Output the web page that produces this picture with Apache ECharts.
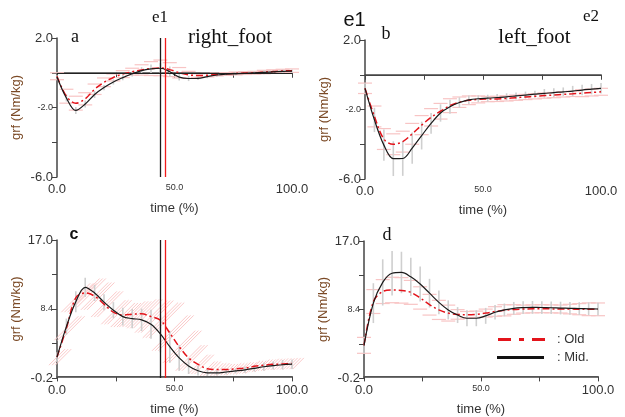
<!DOCTYPE html>
<html>
<head>
<meta charset="utf-8">
<script src="https://cdn.jsdelivr.net/npm/echarts@6/dist/echarts.min.js"></script>
<style>
html,body{margin:0;padding:0;background:#fff;}
#main{width:625px;height:417px;}
</style>
</head>
<body>
<div id="main"></div>
<script>
// time axis (% of cycle), one sample every 4 %
var time_pct = [0,4,8,12,16,20,24,28,32,36,40,44,48,52,56,60,64,68,72,76,80,84,88,92,96,100];

// a : right foot, top row
var a_mid    = [-0.24,-1.45,-2.17,-1.8,-1.25,-0.85,-0.53,-0.28,-0.06,0.12,0.22,0.26,0.06,-0.25,-0.33,-0.32,-0.22,-0.13,-0.08,-0.06,-0.04,-0.01,0.02,0.05,0.08,0.09];
var a_mid_sd = [0.1,0.2,0.2,0.2,0.2,0.15,0.15,0.15,0.15,0.2,0.25,0.3,0.3,0.2,0.15,0.1,0.1,0.1,0.08,0.08,0.08,0.08,0.1,0.1,0.1,0.1];
var a_old    = [-0.2,-1.35,-1.75,-1.5,-0.95,-0.55,-0.27,-0.08,0.06,0.16,0.24,0.28,0.18,0.0,-0.12,-0.16,-0.14,-0.1,-0.07,-0.04,-0.02,0.0,0.04,0.07,0.1,0.12];
var a_old_sd = [0.2,0.4,0.4,0.35,0.3,0.25,0.2,0.2,0.2,0.3,0.4,0.45,0.4,0.3,0.2,0.1,0.1,0.08,0.08,0.08,0.08,0.08,0.1,0.1,0.1,0.1];

// b : left foot, top row
var b_mid    = [-0.78,-2.6,-4.05,-4.83,-4.82,-4.22,-3.5,-2.8,-2.2,-1.84,-1.6,-1.45,-1.38,-1.35,-1.31,-1.27,-1.22,-1.17,-1.12,-1.07,-1.03,-0.98,-0.94,-0.88,-0.83,-0.78];
var b_mid_sd = [0.3,0.7,0.9,1.0,1.0,0.9,0.8,0.6,0.5,0.4,0.3,0.25,0.2,0.2,0.2,0.2,0.2,0.2,0.2,0.25,0.25,0.25,0.3,0.3,0.3,0.3];
var b_old    = [-0.78,-2.4,-3.7,-4.0,-3.85,-3.4,-2.9,-2.45,-2.1,-1.78,-1.58,-1.47,-1.42,-1.4,-1.39,-1.36,-1.32,-1.28,-1.24,-1.2,-1.17,-1.13,-1.1,-1.06,-1.02,-0.98];
var b_old_sd = [0.3,0.6,0.6,0.6,0.6,0.6,0.55,0.5,0.45,0.4,0.3,0.25,0.2,0.15,0.15,0.15,0.15,0.15,0.15,0.15,0.15,0.15,0.15,0.2,0.2,0.2];

// c : right foot, bottom row
var c_mid    = [2.4,6.2,9.3,11.1,10.4,9.25,8.25,7.45,7.2,7.05,6.5,5.3,3.7,2.3,1.3,0.7,0.45,0.45,0.55,0.68,0.82,1.0,1.2,1.35,1.45,1.52];
var c_mid_sd = [0.6,1.0,1.3,1.2,1.0,1.0,1.0,1.1,1.2,1.4,1.8,2.3,2.0,1.6,1.0,0.6,0.4,0.3,0.3,0.3,0.4,0.4,0.5,0.5,0.6,0.6];
var c_old    = [2.4,6.0,9.8,10.4,10.0,9.0,8.0,7.65,7.75,7.8,7.45,7.0,5.4,3.7,2.3,1.5,0.95,0.85,0.85,0.95,1.05,1.25,1.4,1.5,1.55,1.6];
var c_old_sd = [1.0,1.5,1.8,1.8,1.7,1.6,1.5,1.5,1.6,1.8,2.0,2.2,2.2,2.0,1.6,1.2,0.9,0.8,0.7,0.7,0.7,0.7,0.7,0.7,0.7,0.7];

// d : left foot, bottom row
var d_mid    = [3.9,9.2,11.8,12.95,13.05,12.5,11.6,10.45,9.3,8.35,7.7,7.3,7.3,7.6,8.05,8.35,8.55,8.63,8.66,8.65,8.62,8.58,8.55,8.52,8.49,8.46];
var d_mid_sd = [1.0,2.5,2.9,2.8,2.6,2.4,2.2,1.8,1.5,1.2,1.0,1.0,1.0,1.0,0.9,0.8,0.8,0.8,0.8,0.8,0.8,0.8,0.8,0.8,0.8,0.8];
var d_old    = [3.9,9.4,10.65,10.85,10.8,10.55,9.85,9.0,8.35,7.95,7.78,7.75,7.8,7.95,8.15,8.3,8.4,8.45,8.48,8.5,8.48,8.46,8.45,8.44,8.43,8.42];
var d_old_sd = [1.0,1.5,1.5,1.6,1.6,1.5,1.4,1.3,1.2,1.0,0.6,0.4,0.4,0.5,0.6,0.7,0.6,0.5,0.5,0.5,0.5,0.5,0.6,0.7,0.8,0.8];

// axis ticks / labels
var x_ticks_step = 25;
var x_labels = [0, 50, 100];
var top_y_labels = [2, -2, -6];
var bot_y_ticks = [-0.2, 4.1, 8.4, 12.7, 17];
var bot_y_labels = [-0.2, 8.4, 17];
// push-off events (black = Mid., red = Old)
var event_times = [44.0, 46.1];

var AX = '#444';
var TXT = '#333';
var NAME_COL = '#7b4a26';
var RED = '#e3141b';

function pairs(arr) {
    var out = [];
    for (var i = 0; i < time_pct.length; i++) {
        out.push([time_pct[i], arr[i]]);
    }
    return out;
}
function triples(m, s) {
    var out = [];
    for (var i = 0; i < time_pct.length; i++) {
        out.push([time_pct[i], m[i], s[i]]);
    }
    return out;
}

function mkX(gi) {
    return {
        gridIndex: gi, type: 'value', min: 0, max: 100, interval: x_ticks_step,
        axisLine: {lineStyle: {color: AX, width: 1.5}},
        axisTick: {length: 5, lineStyle: {color: AX}},
        splitLine: {show: false},
        axisLabel: {
            color: TXT, fontSize: 13, fontFamily: 'Liberation Sans', margin: 6,
            formatter: function (v) {
                if (x_labels.indexOf(v) < 0) return '';
                if (v === 50) return '{s|' + v.toFixed(1) + '}';
                return v.toFixed(1);
            },
            rich: {s: {fontSize: 9, fontFamily: 'Liberation Sans', color: TXT}}
        },
        name: 'time (%)', nameLocation: 'middle', nameGap: 25,
        nameTextStyle: {color: TXT, fontSize: 13, fontFamily: 'Liberation Sans'}
    };
}

function yFmt(v) {
    if (v === 8.4 || v === -2) return '{s|' + v.toFixed(1) + '}';
    return v.toFixed(1);
}

function mkY(gi, bottom) {
    var y = {
        gridIndex: gi, type: 'value',
        axisLine: {show: true, lineStyle: {color: AX, width: 1.5}},
        axisTick: {show: true, length: 5, lineStyle: {color: AX}},
        splitLine: {show: false},
        axisLabel: {
            color: TXT, fontSize: 13, fontFamily: 'Liberation Sans', margin: 4,
            formatter: yFmt,
            rich: {s: {fontSize: 9, fontFamily: 'Liberation Sans', color: TXT}}
        },
        name: 'grf (Nm/kg)', nameLocation: 'middle', nameGap: 34,
        nameTextStyle: {color: NAME_COL, fontSize: 13, fontFamily: 'Liberation Sans'}
    };
    if (bottom) {
        y.min = -0.2; y.max = 17;
        y.axisTick.customValues = bot_y_ticks;
        y.axisLabel.customValues = bot_y_labels;
    } else {
        y.min = -6; y.max = 2; y.interval = 2;
        var f = y.axisLabel.formatter;
        y.axisLabel.formatter = function (v) {
            if (top_y_labels.indexOf(v) < 0) return '';
            return f(v);
        };
    }
    return y;
}

// grey vertical sd bars for the Mid. group
function greyBars(gi, m, s) {
    return {
        type: 'custom', xAxisIndex: gi, yAxisIndex: gi, z: 2, silent: true,
        data: triples(m, s), encode: {x: 0, y: 1},
        renderItem: function (params, api) {
            var t = api.value(0), v = api.value(1), sd = api.value(2);
            var p1 = api.coord([t, v - sd]), p2 = api.coord([t, v + sd]);
            return {type: 'line', shape: {x1: p1[0], y1: p1[1], x2: p2[0], y2: p2[1]},
                style: {stroke: '#cfcfcf', lineWidth: 1.6}};
        }
    };
}

// pink horizontal sd marks for the Old group
function pinkBars(gi, m, s) {
    return {
        type: 'custom', xAxisIndex: gi, yAxisIndex: gi, z: 1, silent: true,
        data: triples(m, s), encode: {x: 0, y: 1},
        renderItem: function (params, api) {
            var t = api.value(0), v = api.value(1), sd = api.value(2);
            var hi = api.coord([t, v + sd]), lo = api.coord([t, v - sd]);
            var st = {stroke: '#f8c4c4', lineWidth: 1.2};
            return {type: 'group', children: [
                {type: 'line', shape: {x1: hi[0] - 7, y1: hi[1], x2: hi[0] + 7, y2: hi[1]}, style: st},
                {type: 'line', shape: {x1: lo[0] - 7, y1: lo[1], x2: lo[0] + 7, y2: lo[1]}, style: st}
            ]};
        }
    };
}

// diagonal hatching for the Old band in panel c
function pinkHatch(gi, m, s) {
    return {
        type: 'custom', xAxisIndex: gi, yAxisIndex: gi, z: 1, silent: true,
        data: triples(m, s), encode: {x: 0, y: 1},
        renderItem: function (params, api) {
            var t = api.value(0), v = api.value(1), sd = api.value(2);
            var hi = api.coord([t, v + sd]), lo = api.coord([t, v - sd]);
            var h = lo[1] - hi[1];
            var st = {stroke: '#fbcaca', lineWidth: 1};
            var kids = [];
            for (var k = 0; k < 3; k++) {
                var dx = k * 3.1;
                kids.push({type: 'line', shape: {x1: lo[0] - h / 2 + dx, y1: lo[1], x2: lo[0] + h / 2 + dx, y2: hi[1]}, style: st});
            }
            return {type: 'group', children: kids};
        }
    };
}

// vertical event lines over the full plot height
function eventLines(gi) {
    var cols = ['#1a1a1a', '#f01a1a'];
    return {
        type: 'custom', xAxisIndex: gi, yAxisIndex: gi, z: 6, silent: true,
        data: event_times.map(function (t, i) { return [t, 0, i]; }), encode: {x: 0, y: 1},
        renderItem: function (params, api) {
            var cs = params.coordSys;
            var p = api.coord([api.value(0), 0]);
            var x = Math.round(p[0]) + 0.5;
            return {type: 'line', shape: {x1: x, y1: cs.y, x2: x, y2: cs.y + cs.height},
                style: {stroke: cols[api.value(2)], lineWidth: 1.3}};
        }
    };
}

function oldLine(gi, m) {
    return {
        type: 'line', xAxisIndex: gi, yAxisIndex: gi, z: 4, data: pairs(m),
        smooth: 0.35, symbol: 'none', silent: true,
        lineStyle: {color: RED, width: 1.5, type: [7, 3, 2, 3]}
    };
}

function midLine(gi, m, zeroCol) {
    return {
        type: 'line', xAxisIndex: gi, yAxisIndex: gi, z: 5, data: pairs(m),
        smooth: 0.35, symbol: 'none', silent: true,
        lineStyle: {color: '#1a1a1a', width: 1.2},
        markLine: {silent: true, symbol: 'none', label: {show: false}, animation: false,
            lineStyle: {color: zeroCol, width: 1.2, type: 'solid'}, data: [{yAxis: 0}]}
    };
}

function txt(x, y, s, font) {
    return {type: 'text', x: x, y: y, silent: true,
        style: {text: s, font: font, fill: '#111', align: 'center', verticalAlign: 'middle'}};
}

var serif = '"Liberation Serif", "DejaVu Serif", serif';
var sans = '"Liberation Sans", Arial, sans-serif';

var chart = echarts.init(document.getElementById('main'));
chart.setOption({
    animation: false,
    backgroundColor: '#fff',
    grid: [
        {left: 57, right: 333, top: 38, bottom: 240},
        {left: 365, right: 24, top: 40, bottom: 238},
        {left: 57, right: 333, top: 240, bottom: 39},
        {left: 364, right: 27, top: 241, bottom: 39}
    ],
    xAxis: [mkX(0), mkX(1), mkX(2), mkX(3)],
    yAxis: [mkY(0, false), mkY(1, false), mkY(2, true), mkY(3, true)],
    series: [
        pinkBars(0, a_old, a_old_sd), greyBars(0, a_mid, a_mid_sd), oldLine(0, a_old), midLine(0, a_mid, '#222'), eventLines(0),
        pinkBars(1, b_old, b_old_sd), greyBars(1, b_mid, b_mid_sd), oldLine(1, b_old), midLine(1, b_mid, '#444'),
        pinkHatch(2, c_old, c_old_sd), greyBars(2, c_mid, c_mid_sd), oldLine(2, c_old), midLine(2, c_mid, '#555'), eventLines(2),
        pinkBars(3, d_old, d_old_sd), greyBars(3, d_mid, d_mid_sd), oldLine(3, d_old), midLine(3, d_mid, '#555')
    ],
    graphic: [
        txt(160, 18, 'e1', '17px ' + serif),
        txt(75, 37, 'a', '18px ' + serif),
        txt(230, 37, 'right_foot', '21px ' + serif),
        txt(354.5, 20, 'e1', '20px ' + sans),
        txt(386, 34, 'b', '18px ' + serif),
        txt(534.5, 37, 'left_foot', '21px ' + serif),
        txt(591, 17, 'e2', '17px ' + serif),
        txt(74, 235, 'c', 'bold 16px ' + sans),
        txt(387, 235, 'd', '18px ' + serif),
        // legend drawn by hand, as in the figure
        {type: 'line', silent: true, shape: {x1: 498, y1: 339.5, x2: 545, y2: 339.5},
            style: {stroke: RED, lineWidth: 3, lineDash: [13, 8, 5, 8]}},
        {type: 'line', silent: true, shape: {x1: 497, y1: 357.5, x2: 544, y2: 357.5},
            style: {stroke: '#111', lineWidth: 3}},
        {type: 'text', x: 557, y: 339.5, silent: true,
            style: {text: ': Old', font: '13px ' + sans, fill: TXT, verticalAlign: 'middle'}},
        {type: 'text', x: 557, y: 357.5, silent: true,
            style: {text: ': Mid.', font: '13px ' + sans, fill: TXT, verticalAlign: 'middle'}}
    ]
});
</script>
</body>
</html>
